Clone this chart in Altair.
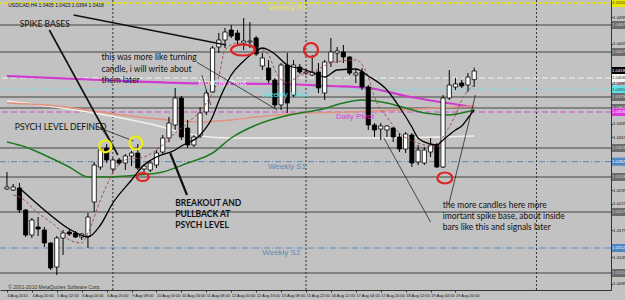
import altair as alt
import pandas as pd

# ---------------- data (USDCAD H4) ----------------
bar_idx = list(range(76))
opens = [1.02410, 1.02395, 1.02425, 1.02095, 1.01720, 1.01840, 1.01795, 1.01600, 1.01240, 1.01675,
         1.01765, 1.01750, 1.01690, 1.01705, 1.02215, 1.02740, 1.03025, 1.02710, 1.02845, 1.02800,
         1.02905, 1.02950, 1.02710, 1.02695, 1.02770, 1.02965, 1.03175, 1.03370, 1.03775, 1.03325,
         1.03070, 1.03205, 1.03565, 1.03865, 1.04540, 1.04645, 1.04795, 1.04750, 1.04600, 1.04615,
         1.04675, 1.04255, 1.04225, 1.04045, 1.03670, 1.04270, 1.03820, 1.04240, 1.04150, 1.04120,
         1.04165, 1.03850, 1.04315, 1.04450, 1.04465, 1.04390, 1.04120, 1.04165, 1.03940, 1.03370,
         1.03310, 1.03295, 1.03325, 1.03190, 1.03010, 1.03220, 1.02815, 1.02800, 1.02965, 1.03070,
         1.02740, 1.03775, 1.03940, 1.04000, 1.03970, 1.04050]
highs = [1.02665, 1.02485, 1.02500, 1.02110, 1.01975, 1.01990, 1.01840, 1.01615, 1.01705, 1.01795,
         1.01810, 1.01780, 1.01750, 1.02050, 1.02815, 1.03025, 1.03085, 1.02875, 1.02875, 1.02935,
         1.02980, 1.03085, 1.02785, 1.02845, 1.02995, 1.03220, 1.03490, 1.03925, 1.03805, 1.03445,
         1.03220, 1.03640, 1.03895, 1.04555, 1.04750, 1.04825, 1.04870, 1.04795, 1.04975, 1.04915,
         1.04705, 1.04450, 1.04345, 1.04075, 1.04300, 1.04450, 1.04345, 1.04285, 1.04210, 1.04420,
         1.04300, 1.04345, 1.04675, 1.04540, 1.04570, 1.04405, 1.04210, 1.04225, 1.03970, 1.03400,
         1.03400, 1.03370, 1.03340, 1.03250, 1.03265, 1.03250, 1.03070, 1.03040, 1.03175, 1.03100,
         1.03820, 1.04195, 1.04075, 1.04045, 1.04150, 1.04230]
lows = [1.02395, 1.02380, 1.02050, 1.01690, 1.01675, 1.01705, 1.01540, 1.01195, 1.01120, 1.01420,
        1.01705, 1.01675, 1.01645, 1.01525, 1.02065, 1.02695, 1.02800, 1.02665, 1.02770, 1.02695,
        1.02755, 1.02695, 1.02665, 1.02665, 1.02725, 1.02935, 1.03115, 1.03295, 1.03145, 1.03025,
        1.03040, 1.03175, 1.03520, 1.03850, 1.04450, 1.04525, 1.04675, 1.04555, 1.04495, 1.04525,
        1.04405, 1.04195, 1.04000, 1.03625, 1.03595, 1.03550, 1.03790, 1.04135, 1.04120, 1.04105,
        1.03850, 1.03745, 1.04240, 1.04300, 1.04300, 1.04120, 1.04000, 1.03895, 1.03295, 1.03190,
        1.03145, 1.03190, 1.03115, 1.02965, 1.02950, 1.02740, 1.02770, 1.02770, 1.02890, 1.02725,
        1.02725, 1.03745, 1.03895, 1.03925, 1.03865, 1.03940]
closes = [1.02440, 1.02440, 1.02095, 1.01720, 1.01945, 1.01810, 1.01600, 1.01225, 1.01675, 1.01750,
          1.01735, 1.01690, 1.01735, 1.01990, 1.02770, 1.02995, 1.02845, 1.02845, 1.02800, 1.02905,
          1.02950, 1.02725, 1.02755, 1.02800, 1.02950, 1.03175, 1.03400, 1.03775, 1.03190, 1.03070,
          1.03190, 1.03550, 1.03850, 1.04525, 1.04645, 1.04765, 1.04705, 1.04645, 1.04630, 1.04630,
          1.04435, 1.04375, 1.04045, 1.03670, 1.04270, 1.03700, 1.04270, 1.04165, 1.04165, 1.04165,
          1.03925, 1.04315, 1.04465, 1.04480, 1.04390, 1.04150, 1.04150, 1.03940, 1.03370, 1.03295,
          1.03355, 1.03355, 1.03190, 1.03010, 1.03235, 1.02800, 1.02995, 1.02995, 1.03070, 1.02740,
          1.03775, 1.03970, 1.03985, 1.03955, 1.04090, 1.04180]

date_labels = ["4 Aug 2010", "4 Aug 20:00", "5 Aug 12:00", "6 Aug 04:00", "6 Aug 20:00",
               "9 Aug 08:00", "10 Aug 00:00", "10 Aug 16:00", "11 Aug 08:00", "12 Aug 00:00",
               "12 Aug 16:00", "13 Aug 08:00", "15 Aug 22:00", "16 Aug 12:00", "17 Aug 04:00",
               "17 Aug 20:00", "18 Aug 12:00", "19 Aug 04:00", "19 Aug 20:00"]

# moving averages, read at selected bars
ema_fast_bars = [2, 6, 10, 13, 15, 17, 20, 22, 24, 27, 28, 31, 33, 34, 35, 36, 38, 40, 41, 42, 43, 45,
                 48, 50, 51, 53, 56, 58, 61, 63, 65, 66, 68, 69, 70, 72, 73, 74, 75]
ema_fast_vals = [1.02425, 1.02095, 1.01810, 1.01690, 1.01870, 1.02200, 1.02545, 1.02770, 1.02890,
                 1.02995, 1.03055, 1.03220, 1.03490, 1.03730, 1.03940, 1.04120, 1.04330, 1.04480,
                 1.04525, 1.04495, 1.04435, 1.04270, 1.04195, 1.04120, 1.04090, 1.04195, 1.04210,
                 1.04105, 1.03895, 1.03640, 1.03340, 1.03175, 1.03085, 1.03070, 1.03145, 1.03295,
                 1.03355, 1.03475, 1.03595]
sma_fast_bars = [1, 2, 5, 8, 10, 12, 13, 15, 17, 19, 22, 24, 27, 29, 32, 34, 35, 37, 38, 40, 42, 43,
                 45, 47, 49, 52, 56, 58, 59, 61, 63, 66, 69, 70, 72, 73, 75]
sma_fast_vals = [1.02320, 1.02290, 1.02050, 1.01840, 1.01645, 1.01600, 1.01750, 1.02245, 1.02650,
                 1.02845, 1.02890, 1.02995, 1.03250, 1.03400, 1.03700, 1.04090, 1.04495, 1.04600,
                 1.04570, 1.04540, 1.04420, 1.04195, 1.04000, 1.04120, 1.04165, 1.04300, 1.04345,
                 1.04090, 1.03790, 1.03490, 1.03250, 1.03100, 1.03040, 1.03190, 1.03520, 1.03745,
                 1.03970]
green_bars = [0, 3, 6, 10, 13, 15, 21, 25, 29, 33, 36, 40, 44, 48, 50, 54, 57, 61, 64, 67, 71, 73, 75]
green_vals = [1.03115, 1.03040, 1.02920, 1.02740, 1.02590, 1.02590, 1.02620, 1.02665, 1.02800,
              1.02950, 1.03175, 1.03370, 1.03490, 1.03565, 1.03595, 1.03700, 1.03745, 1.03700,
              1.03625, 1.03550, 1.03520, 1.03550, 1.03595]
magenta_bars = [0, 15, 31, 44, 52, 58, 64, 75]
magenta_vals = [1.04105, 1.04045, 1.03995, 1.03985, 1.03955, 1.03925, 1.03805, 1.03640]
salmon_bars = [0, 8, 15, 21, 26, 31, 36, 40, 48, 55, 63, 75]
salmon_vals = [1.03700, 1.03655, 1.03565, 1.03490, 1.03445, 1.03415, 1.03445, 1.03490, 1.03550,
               1.03565, 1.03595, 1.03655]
white_bars = [0, 10, 23, 31, 36, 47, 58, 75]
white_vals = [1.03730, 1.03610, 1.03385, 1.03205, 1.03175, 1.03175, 1.03175, 1.03205]

# horizontal levels
level_solid = [1.0487, 1.04465, 1.0379, 1.03625, 1.03025, 1.02590, 1.02065, 1.01150]
level_r1 = [1.0520]
level_monthly = [1.04075]
level_weekly_pivot = [1.0390]
level_daily_pivot = [1.03565]
level_weekly_s = [1.0282, 1.01525]
week_separators = [17, 48, 85]

# price-scale highlighted labels
box_prices = [1.0520, 1.0487, 1.04465, 1.0418, 1.04075, 1.0390, 1.0379, 1.03625, 1.03565, 1.03025,
              1.0282, 1.0259, 1.02065, 1.01525, 1.0115]
box_bg = ["#e8e800", "#6c6c6c", "#6c6c6c", "#000000", "#f4f4f4", "#62e0e8", "#6c6c6c", "#6c6c6c",
          "#d83ad8", "#6c6c6c", "#4f86c0", "#6c6c6c", "#6c6c6c", "#4f86c0", "#6c6c6c"]
box_fg = ["#333", "#ddd", "#ddd", "#fff", "#333", "#333", "#ddd", "#ddd", "#fff", "#ddd", "#fff",
          "#ddd", "#ddd", "#fff", "#ddd"]

# ---------------- scales / shared axes ----------------
XS = alt.Scale(domain=[-0.316, 96.16], nice=False, zero=False)
YS = alt.Scale(domain=[1.00895, 1.05245], nice=False, zero=False)

label_expr = "[" + ",".join("'" + s + "'" for s in date_labels) + "][datum.value/4]"
XAX = alt.Axis(values=list(range(0, 76, 4)), labelExpr=label_expr, title=None, labelFontSize=4.0,
               labelColor="#111", labelAlign="left", labelPadding=1.5, tickSize=2, tickColor="#333",
               domainColor="#333", grid=False, labelFont="Liberation Sans", labelFlush=False,
               labelOverlap=False, labelBound=False)
yticks_all = [round(1.0099 + 0.002 * k, 4) for k in range(21)]
yticks = [t for t in yticks_all if min(abs(t - b) for b in box_prices) > 0.0008]
YAX = alt.Axis(orient="right", values=yticks, format=".4f", title=None, labelFontSize=4.4,
               labelColor="#111", labelPadding=0, tickSize=1.5, tickColor="#333",
               domainColor="#333", grid=False, labelFont="Liberation Sans", labelOverlap=False,
               labelBound=False, labelFlush=False)


def X(f):
    return alt.X(f, scale=XS, axis=XAX)


def Y(f):
    return alt.Y(f, scale=YS, axis=YAX)


candles = pd.DataFrame({"bar": bar_idx, "open": opens, "high": highs, "low": lows, "close": closes})
candles["dir"] = ["up" if c >= o else "down" for o, c in zip(opens, closes)]


def hlines(vals, color, dash=None, width=1.5):
    kw = dict(color=color, strokeWidth=width)
    if dash:
        kw["strokeDash"] = dash
    return alt.Chart(pd.DataFrame({"p": vals})).mark_rule(**kw).encode(y=Y("p:Q"))


layers = [
    hlines(level_solid, "#6c6c6c", None, 1.6),
    hlines(level_r1, "#e4e400", [2, 1], 1.5),
    hlines(level_monthly, "#f2f2f2", [6, 3], 1.2),
    hlines(level_weekly_pivot, "#7ad8e6", [1.5, 2], 1.6),
    hlines(level_daily_pivot, "#d24fd2", [6, 3], 1.2),
    hlines(level_weekly_s, "#5b88b8", [6, 2, 1, 2], 1.0),
    alt.Chart(pd.DataFrame({"b": week_separators})).mark_rule(
        color="#303030", strokeDash=[2, 2], strokeWidth=1).encode(x=X("b:Q")),
]


def ma(bars, vals, color, width, dash=None):
    kw = dict(color=color, strokeWidth=width, interpolate="monotone")
    if dash:
        kw["strokeDash"] = dash
    return alt.Chart(pd.DataFrame({"b": bars, "v": vals})).mark_line(**kw).encode(
        x=X("b:Q"), y=Y("v:Q"))


layers += [
    ma(magenta_bars, magenta_vals, "#d03ad0", 2.2),
    ma(white_bars, white_vals, "#f4f0e8", 1.6),
    ma(salmon_bars, salmon_vals, "#e4907e", 1.4),
    ma(green_bars, green_vals, "#1e7a1e", 1.5),
]

# candles
wicks = alt.Chart(candles).mark_rule(color="#000", strokeWidth=1).encode(
    x=X("bar:Q"), y=Y("low:Q"), y2="high:Q")
bodies = alt.Chart(candles).mark_bar(size=4.2, stroke="#000", strokeWidth=0.8).encode(
    x=X("bar:Q"), y=Y("open:Q"), y2="close:Q",
    fill=alt.Fill("dir:N", scale=alt.Scale(domain=["up", "down"], range=["#ffffff", "#000000"]),
                  legend=None))
layers += [wicks, bodies]

layers += [
    ma(sma_fast_bars, sma_fast_vals, "#a4504e", 1.0, [3, 2]),
    ma(ema_fast_bars, ema_fast_vals, "#000000", 1.3),
]

# pivot labels
piv = pd.DataFrame({
    "t": ["Weekly R1", "Monthly Pivot", "Weekly Pivot", "Daily Pivot", "Weekly S1", "Weekly S2"],
    "b": [48.2, 38.4, 48.3, 58.9, 48.0, 47.1],
    "p": [1.0520, 1.04075, 1.0390, 1.03565, 1.0282, 1.01525],
    "c": ["#e8e84a", "#f4f4f4", "#62e0e8", "#d83ad8", "#5b88b8", "#5b88b8"],
})
layers.append(alt.Chart(piv).mark_text(align="right", baseline="top", font="Liberation Sans",
                                       fontSize=8, dy=1).encode(
    x=X("b:Q"), y=Y("p:Q"), text="t:N", color=alt.Color("c:N", scale=None)))

# annotation lines
ann_lines = pd.DataFrame({
    "b1": [6.8, 10.7, 30.5, 31.3, 26.2, 60.5, 75.2, 14.5, 15.0],
    "p1": [1.04795, 1.0502, 1.0431, 1.0412, 1.0295, 1.03175, 1.0382, 1.0334, 1.0334],
    "b2": [17.8, 35.2, 43.4, 32.7, 28.9, 68.0, 70.9, 20.3, 17.3],
    "p2": [1.0292, 1.0457, 1.03595, 1.0367, 1.0232, 1.01915, 1.0217, 1.0313, 1.0302],
    "w": [1.6, 1.6, 0.7, 0.7, 2.2, 0.7, 0.7, 0.7, 0.7],
})
layers.append(alt.Chart(ann_lines).mark_rule(color="#111").encode(
    x=X("b1:Q"), y=Y("p1:Q"), x2="b2:Q", y2="p2:Q",
    strokeWidth=alt.StrokeWidth("w:Q", scale=None)))


def ell(w, h):
    r = h / w
    return f"M -1 0 A 1 {r:.3f} 0 1 0 1 0 A 1 {r:.3f} 0 1 0 -1 0 Z"


marks_df = pd.DataFrame({
    "b": [15.8, 20.7, 21.8, 37.9, 48.8, 70.3],
    "p": [1.0305, 1.0310, 1.0259, 1.04495, 1.04495, 1.02575],
    "w": [11, 13, 12, 24, 14, 15],
    "h": [12, 13, 8, 11, 14, 11],
    "c": ["#f0ee10", "#f0ee10", "#e02222", "#e02222", "#e02222", "#e02222"],
})
marks_df["shape"] = [ell(w, h) if w >= h else "circle" for w, h in zip(marks_df.w, marks_df.h)]
marks_df["size"] = [max(w, h) ** 2 for w, h in zip(marks_df.w, marks_df.h)]
layers.append(alt.Chart(marks_df).mark_point(filled=False, strokeWidth=2.2, opacity=1).encode(
    x=X("b:Q"), y=Y("p:Q"),
    shape=alt.Shape("shape:N", scale=None), size=alt.Size("size:Q", scale=None),
    color=alt.Color("c:N", scale=None)))

# annotation texts
ann = pd.DataFrame({
    "t": ["SPIKE BASES", "this was more like turning", "candle, i will write about", "them later",
          "PSYCH LEVEL DEFINED", "the more candles here more", "imortant spike base, about inside",
          "bars like this and signals later"],
    "b": [2.05, 15.16, 15.16, 15.16, 1.26, 69.95, 69.95, 69.95],
    "p": [1.04885, 1.0439, 1.0421, 1.04045, 1.0334, 1.0217, 1.02005, 1.0184],
})
layers.append(alt.Chart(ann).mark_text(align="left", baseline="middle", font="Lato",
                                       fontSize=8.5, color="#111").encode(
    x=X("b:Q"), y=Y("p:Q"), text="t:N"))
bold = pd.DataFrame({"t": ["BREAKOUT AND", "PULLBACK AT", "PSYCH LEVEL"],
                     "b": [27.0, 27.0, 27.0], "p": [1.0220, 1.02035, 1.0187]})
layers.append(alt.Chart(bold).mark_text(align="left", baseline="middle", font="Lato",
                                        fontSize=8.5, fontWeight="bold", color="#111").encode(
    x=X("b:Q"), y=Y("p:Q"), text="t:N"))

# header / footer
head = pd.DataFrame({"t": ["USDCAD,H4  %.4f %.4f %.4f %.4f" % (opens[-1], highs[-1], lows[-1], closes[-1])],
                     "b": [0.2], "p": [1.0517]})
layers.append(alt.Chart(head).mark_text(align="left", baseline="middle", font="Liberation Sans",
                                        fontSize=5, color="#111").encode(
    x=X("b:Q"), y=Y("p:Q"), text="t:N"))
foot = pd.DataFrame({"t": ["© 2001-2010 MetaQuotes Software Corp."], "b": [0.2], "p": [1.0094]})
layers.append(alt.Chart(foot).mark_text(align="left", baseline="middle", font="Liberation Sans",
                                        fontSize=5, color="#333").encode(
    x=X("b:Q"), y=Y("p:Q"), text="t:N"))

# right axis highlighted price boxes
boxes = pd.DataFrame({"p": box_prices, "bg": box_bg, "fg": box_fg})
boxes["lo"] = boxes.p - 0.0006
boxes["hi"] = boxes.p + 0.0006
layers.append(alt.Chart(boxes).mark_rect(clip=False).encode(
    x=alt.value(612), x2=alt.value(625),
    y=Y("lo:Q"), y2="hi:Q", color=alt.Color("bg:N", scale=None)))
layers.append(alt.Chart(boxes).mark_text(align="left", baseline="middle", fontSize=4.3,
                                         font="Liberation Sans", clip=False).encode(
    x=alt.value(612), y=Y("p:Q"),
    text=alt.Text("p:Q", format=".4f"), color=alt.Color("fg:N", scale=None)))

chart = alt.layer(*layers).properties(
    width=611, height=290, background="#c2c2c2",
    autosize=alt.AutoSizeParams(type="none"),
    padding={"left": 0, "top": 0, "right": 14, "bottom": 10}
).configure_view(stroke=None)

chart.save("out.html", embed_options={"renderer": "svg", "actions": False})
